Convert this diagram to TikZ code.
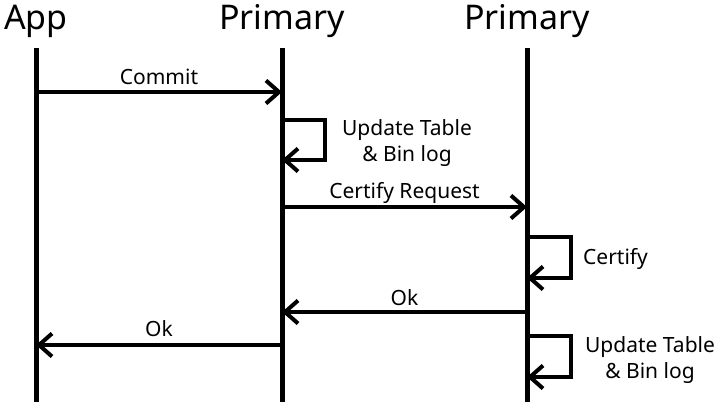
\documentclass[tikz,border=0pt]{standalone}
\usepackage{fontspec}
\setmainfont{Noto Sans}
\usetikzlibrary{arrows.meta,positioning,calc}

\begin{document}
\begin{tikzpicture}[x=1pt, y=-1pt,
    head/.style={font=\fontsize{34}{36}\selectfont, inner sep=0pt},
    lbl/.style={font=\fontsize{21}{26}\selectfont, inner sep=0pt, align=center},
    life/.style={line width=5pt},
    msg/.style={line width=4pt, -{Straight Barb[length=13pt, width=23pt]}}]
    \useasboundingbox (0,0) rectangle (725,410);

    % actors
    \node[head] (app) at (36,21) {App};
    \node[head] (pri1) at (282,21) {Primary};
    \node[head] (pri2) at (527,21) {Primary};

    % lifelines
    \coordinate (appTop) at (36,48);   \coordinate (appEnd) at (36,402);
    \coordinate (pri1Top) at (282,48); \coordinate (pri1End) at (282,402);
    \coordinate (pri2Top) at (527,48); \coordinate (pri2End) at (527,402);
    \draw[life] (appTop) -- (appEnd);
    \draw[life] (pri1Top) -- (pri1End);
    \draw[life] (pri2Top) -- (pri2End);

    % commit
    \coordinate (c1) at (36,92); \coordinate (c2) at (282,92);
    \draw[msg] (c1) -- (c2) node[lbl, midway, above=5pt] (commit) {Commit};

    % update on first primary
    \coordinate (u1) at (282,120); \coordinate (u2) at (282,160);
    \draw[msg] (u1) -- ++(43,0) |- (u2);
    \node[lbl] (upd1) at (407,143) {Update Table\\\& Bin log};

    % certify request
    \coordinate (r1) at (282,207); \coordinate (r2) at (527,207);
    \draw[msg] (r1) -- (r2) node[lbl, midway, above=1pt] (req) {Certify Request};

    % certify
    \coordinate (f1) at (527,237); \coordinate (f2) at (527,278);
    \draw[msg] (f1) -- ++(44,0) |- (f2);
    \node[lbl, anchor=west] (cert) at (583,259) {Certify};

    % ok replies
    \coordinate (o1) at (527,312); \coordinate (o2) at (282,312);
    \draw[msg] (o1) -- (o2) node[lbl, midway, above=4pt] (ok1) {Ok};
    \coordinate (k1) at (282,345); \coordinate (k2) at (36,345);
    \draw[msg] (k1) -- (k2) node[lbl, midway, above=6pt] (ok2) {Ok};

    % update on second primary
    \coordinate (v1) at (527,336); \coordinate (v2) at (527,377);
    \draw[msg] (v1) -- ++(44,0) |- (v2);
    \node[lbl] (upd2) at (650,360) {Update Table\\\& Bin log};
\end{tikzpicture}
\end{document}
